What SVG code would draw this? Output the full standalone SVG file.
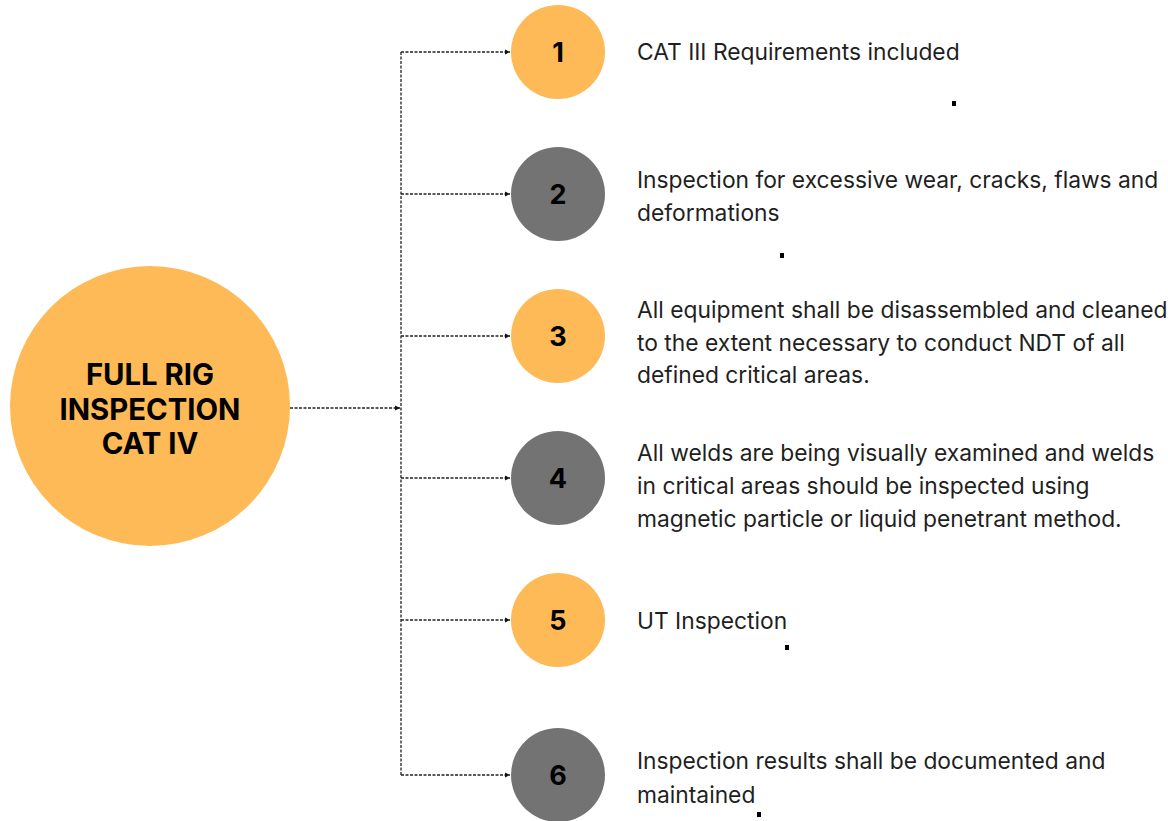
<svg xmlns="http://www.w3.org/2000/svg" width="1168" height="821" viewBox="0 0 1168 821">
<defs>
<marker id="ah" markerWidth="6" markerHeight="6" refX="5" refY="3" orient="auto" markerUnits="userSpaceOnUse">
<path d="M0,0.5 L5,3 L0,5.5 Z" fill="#111"/>
</marker>
<style>
.c{stroke:#222;stroke-width:1.3;stroke-dasharray:3 1.5;fill:none}
.o{fill:#FDBA57}
.g{fill:#737373}
.n{font-family:Inter,"Noto Sans",sans-serif;font-weight:700;font-size:27px;fill:#000;text-anchor:middle}
.t{font-family:Inter,"Noto Sans",sans-serif;font-size:22.8px;fill:#1f1f1f}
.h{font-family:Inter,"Noto Sans",sans-serif;font-weight:700;font-size:29.3px;fill:#000;text-anchor:middle}
.d{fill:#000}
</style>
</defs>
<rect width="1168" height="821" fill="#fff"/>
<g id="connectors">
<path class="c" d="M290,408 H400" marker-end="url(#ah)"/>
<path class="c" d="M401,52 V775"/>
<path class="c" d="M401,52 H510" marker-end="url(#ah)"/>
<path class="c" d="M401,194 H510" marker-end="url(#ah)"/>
<path class="c" d="M401,336 H510" marker-end="url(#ah)"/>
<path class="c" d="M401,478 H510" marker-end="url(#ah)"/>
<path class="c" d="M401,620 H510" marker-end="url(#ah)"/>
<path class="c" d="M401,775 H510" marker-end="url(#ah)"/>
</g>
<g id="main">
<circle class="o" cx="150" cy="406" r="140"/>
<text class="h" x="150" y="385">FULL RIG</text>
<text class="h" x="150" y="420">INSPECTION</text>
<text class="h" x="150" y="454">CAT IV</text>
</g>
<g id="step1">
<circle class="o" cx="558" cy="52" r="47"/>
<text class="n" x="558" y="62">1</text>
<text class="t" x="637" y="60">CAT III Requirements included</text>
<rect class="d" x="952" y="101" width="4" height="5"/>
</g>
<g id="step2">
<circle class="g" cx="558" cy="194" r="47"/>
<text class="n" x="558" y="204">2</text>
<text class="t" x="637" y="188">Inspection for excessive wear, cracks, flaws and</text>
<text class="t" x="637" y="221">deformations</text>
<rect class="d" x="780" y="253" width="4" height="5"/>
</g>
<g id="step3">
<circle class="o" cx="558" cy="336" r="47"/>
<text class="n" x="558" y="346">3</text>
<text class="t" x="637" y="318">All equipment shall be disassembled and cleaned</text>
<text class="t" x="637" y="351">to the extent necessary to conduct NDT of all</text>
<text class="t" x="637" y="383">defined critical areas.</text>
</g>
<g id="step4">
<circle class="g" cx="558" cy="478" r="47"/>
<text class="n" x="558" y="488">4</text>
<text class="t" x="637" y="461">All welds are being visually examined and welds</text>
<text class="t" x="637" y="494">in critical areas should be inspected using</text>
<text class="t" x="637" y="527">magnetic particle or liquid penetrant method.</text>
</g>
<g id="step5">
<circle class="o" cx="558" cy="620" r="47"/>
<text class="n" x="558" y="630">5</text>
<text class="t" x="637" y="629">UT Inspection</text>
<rect class="d" x="785" y="645" width="4" height="5"/>
</g>
<g id="step6">
<circle class="g" cx="558" cy="775" r="47"/>
<text class="n" x="558" y="785">6</text>
<text class="t" x="637" y="769">Inspection results shall be documented and</text>
<text class="t" x="637" y="803">maintained</text>
<rect class="d" x="757" y="812" width="4" height="5"/>
</g>
</svg>
